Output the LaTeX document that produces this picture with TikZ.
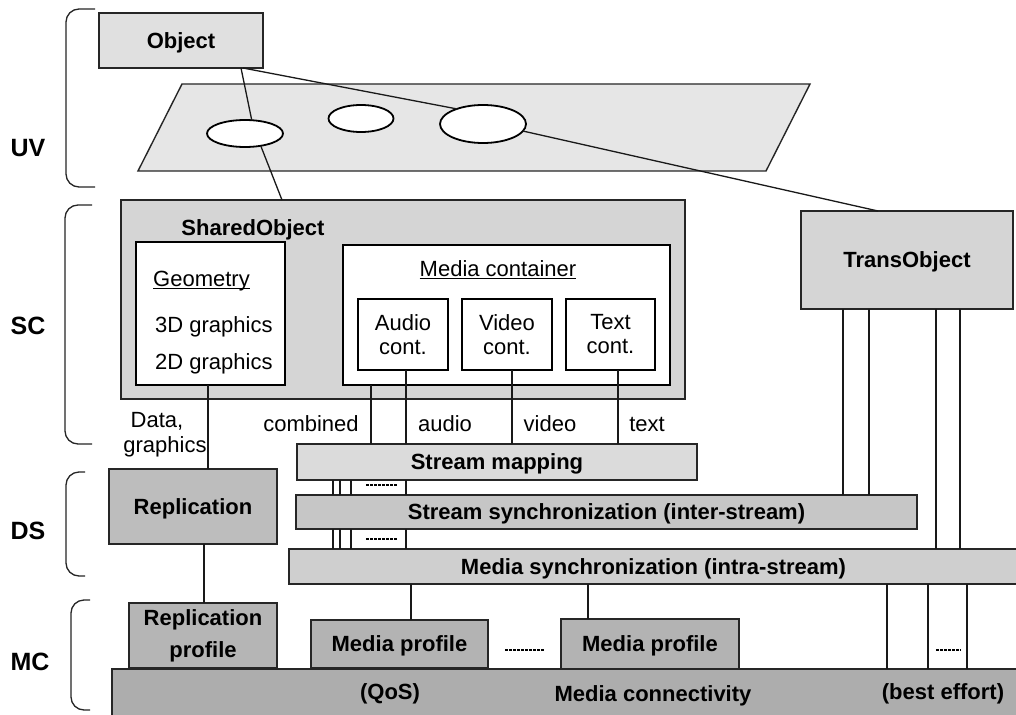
\documentclass[tikz,border=0pt]{standalone}
\usepackage{fontspec}
\setmainfont{Liberation Sans}
\usetikzlibrary{shapes.geometric,calc}
\definecolor{cObj}{HTML}{E0E0E0}
\definecolor{cPlane}{HTML}{E6E6E6}
\definecolor{cShared}{HTML}{D5D5D5}
\definecolor{cTrans}{HTML}{D5D5D5}
\definecolor{cSmap}{HTML}{DBDBDB}
\definecolor{cSsync}{HTML}{C6C6C6}
\definecolor{cMsync}{HTML}{CFCFCF}
\definecolor{cRepl}{HTML}{BDBDBD}
\definecolor{cRprof}{HTML}{B5B5B5}
\definecolor{cMprof}{HTML}{B3B3B3}
\definecolor{cMconn}{HTML}{ADADAD}
\newcommand\myul[1]{\setbox0=\hbox{#1}\rlap{\rule[-2pt]{\wd0}{1pt}}\box0}
\begin{document}
\begin{tikzpicture}[x=1pt,y=-1pt,
  bxbase/.style={draw=black!85, line width=1.4pt, inner sep=0pt, outer sep=0pt, align=center},
  bx/.style={bxbase, font=\fontsize{22}{24}\selectfont\bfseries, text height=15.8pt, text depth=0pt},
  wbx/.style={draw=black, line width=1.8pt, fill=white, inner sep=0pt, outer sep=0pt, align=center, font=\fontsize{22}{24}\selectfont},
  txt/.style={inner sep=0pt, font=\fontsize{22}{26}\selectfont, text height=15.8pt, text depth=0pt},
  btxt/.style={inner sep=0pt, font=\fontsize{22}{26}\selectfont\bfseries, text height=15.8pt, text depth=0pt},
  layer/.style={inner sep=0pt, font=\fontsize{25}{30}\selectfont\bfseries, text height=18pt, text depth=0pt},
  brace/.style={draw=black!85, line width=1.3pt, rounded corners=13pt},
  conn/.style={draw=black!90, line width=1.3pt},
  dots/.style={draw=black, line width=2.2pt, dash pattern=on 2.5pt off 1.5pt},
  oval/.style={ellipse, draw=black, line width=1.8pt, fill=white, inner sep=0pt, outer sep=0pt}
]
\useasboundingbox (0,0) rectangle (1016,714);
\fill[white] (0,0) rectangle (1016,714);

% layer braces and labels
\draw[brace] (95,9) -- (66,9) -- (66,187) -- (95,187);
\draw[brace] (92,205) -- (65,205) -- (65,444) -- (92,444);
\draw[brace] (85,472) -- (66,472) -- (66,576) -- (85,576);
\draw[brace] (90,600) -- (71,600) -- (71,710) -- (90,710);
\node[layer] (uv) at (28,148) {UV};
\node[layer] (sc) at (28,325) {SC};
\node[layer] (ds) at (28,530) {DS};
\node[layer] (mc) at (30,661) {MC};

% UV layer
\node[bx, fill=cObj, minimum width=164pt, minimum height=55pt] (obj) at (181,40.5) {Object};
\draw[fill=cPlane, draw=black!85, line width=1.4pt] (182,84) -- (810,84) -- (766,171) -- (138,171) -- cycle;
\node[oval, minimum width=76pt, minimum height=27pt] (e1) at (245,133.5) {};
\node[oval, minimum width=65pt, minimum height=27pt] (e2) at (361,118.5) {};
\node[oval, minimum width=86pt, minimum height=38pt] (e3) at (483,124) {};

% SC layer
\node[bx, fill=cShared, minimum width=564pt, minimum height=199pt] (shared) at (403,299.5) {};
\node[btxt] (sharedlbl) at (253,228) {SharedObject};
\node[wbx, minimum width=149pt, minimum height=143pt] (geom) at (210.5,313.5) {};
\node[txt, anchor=west] (geomt) at (153,279) {\myul{Geometry}};
\node[txt, anchor=west] (g3d) at (155,325) {3D graphics};
\node[txt, anchor=west] (g2d) at (155,362) {2D graphics};
\node[wbx, minimum width=327pt, minimum height=140pt] (mcont) at (506.5,315) {};
\node[txt] (mcontt) at (498,269) {\myul{Media container}};
\node[wbx, minimum width=90pt, minimum height=71pt] (aud) at (403,334.5) {Audio\\cont.};
\node[wbx, minimum width=90pt, minimum height=71pt] (vid) at (507,334.5) {Video\\cont.};
\node[wbx, minimum width=89pt, minimum height=71pt] (txc) at (610.5,334.5) {Text\\cont.};
\node[bx, fill=cTrans, minimum width=212pt, minimum height=98pt] (trans) at (907,260) {TransObject};

% UV connectors
\draw[conn] ([xshift=-22pt]obj.south east) -- (e1.63);
\draw[conn] (e1.-38) -- ([xshift=161pt]shared.north west);
\draw[conn] ([xshift=-20pt]obj.south east) -- (e3.150);
\draw[conn] (e3.-10) -- ([xshift=77pt]trans.north west);

% stream labels
\node[txt] (ldata) at (157,420) {Data,};
\node[txt] (lgfx) at (165,445) {graphics};
\node[txt] (lcomb) at (311,424) {combined};
\node[txt] (laud) at (445,424) {audio};
\node[txt] (lvid) at (550,424) {video};
\node[txt] (ltxt) at (647,424) {text};

% DS layer
\node[bx, fill=cSmap, minimum width=400pt, minimum height=36pt] (smap) at (497,462) {Stream mapping};
\node[bx, fill=cSsync, minimum width=621pt, minimum height=34pt] (ssync) at (606.5,512) {Stream synchronization (inter-stream)};
\node[bx, fill=cMsync, minimum width=729pt, minimum height=35pt] (msync) at (653.5,566.5) {Media synchronization (intra-stream)};
\node[bx, fill=cRepl, minimum width=168pt, minimum height=75pt] (repl) at (193,506.5) {Replication};

% MC layer
\node[bx, fill=cMconn, minimum width=906pt, minimum height=47pt] (mconn) at (565,692.5) {};
\node[btxt] (qos) at (390,692) {(QoS)};
\node[btxt] (mconnl) at (653,694) {Media connectivity};
\node[btxt] (beff) at (943,692) {(best effort)};
\node[bxbase, fill=cRprof, minimum width=148pt, minimum height=65pt, font=\fontsize{22}{32}\selectfont\bfseries] (rprof) at (203,635.5) {Replication\\profile};
\node[bx, fill=cMprof, minimum width=177pt, minimum height=48pt] (mp1) at (399.5,644) {Media profile};
\node[bx, fill=cMprof, minimum width=178pt, minimum height=50pt] (mp2) at (650,644) {Media profile};

% x positions of vertical connectors
\foreach \xx in {208,204,371,406,512,618,333,340,351,843,869,936,960,411,588,887,928,967}
  \coordinate (x\xx) at (\xx,0);

\draw[conn] (geom.south -| x208) -- (repl.north -| x208);
\draw[conn] (repl.south -| x204) -- (rprof.north -| x204);
\draw[conn] (mcont.south -| x371) -- (smap.north -| x371);
\draw[conn] (aud.south -| x406) -- (smap.north -| x406);
\draw[conn] (vid.south -| x512) -- (smap.north -| x512);
\draw[conn] (txc.south -| x618) -- (smap.north -| x618);
\foreach \xx in {333,340,351,406}{
  \draw[conn] (smap.south -| x\xx) -- (ssync.north -| x\xx);
  \draw[conn] (ssync.south -| x\xx) -- (msync.north -| x\xx);
}
\draw[conn] (trans.south -| x843) -- (ssync.north -| x843);
\draw[conn] (trans.south -| x869) -- (ssync.north -| x869);
\draw[conn] (trans.south -| x936) -- (msync.north -| x936);
\draw[conn] (trans.south -| x960) -- (msync.north -| x960);
\draw[conn] (msync.south -| x411) -- (mp1.north -| x411);
\draw[conn] (msync.south -| x588) -- (mp2.north -| x588);
\foreach \xx in {887,928,967}
  \draw[conn] (msync.south -| x\xx) -- (mconn.north -| x\xx);

% ellipsis marks
\draw[dots] (366,485) -- (397,485);
\draw[dots] (366,539) -- (397,539);
\draw[dots] (505,650) -- (545,650);
\draw[dots] (936,650) -- (961,650);
\end{tikzpicture}
\end{document}
